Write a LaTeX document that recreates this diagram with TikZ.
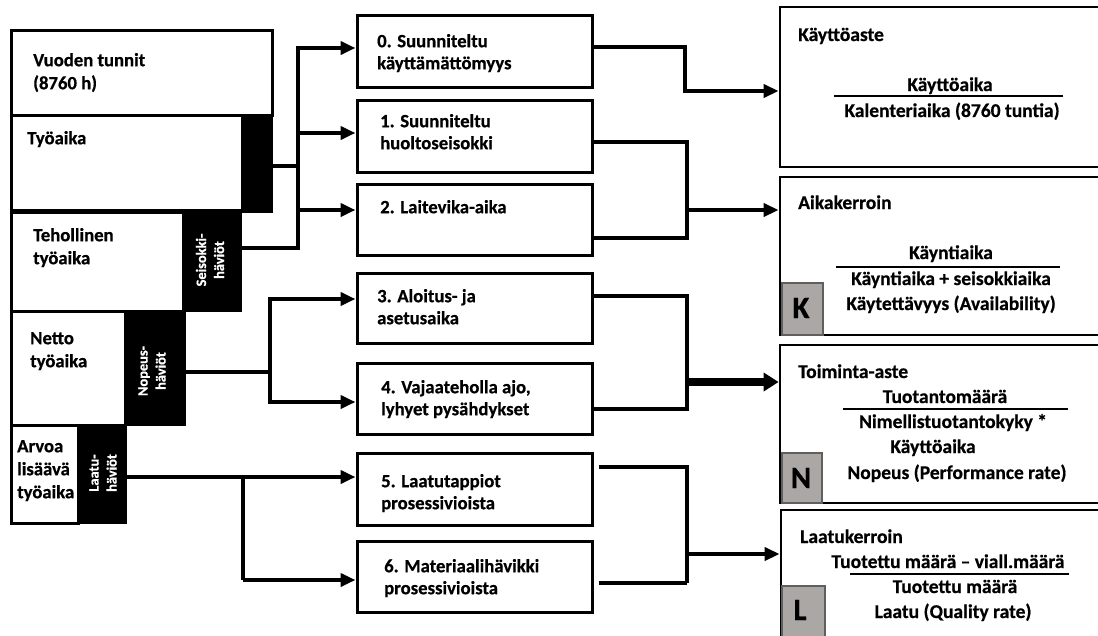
\documentclass[tikz,border=0pt]{standalone}
\usepackage{fontspec}
\setmainfont{Carlito}[BoldFont={Carlito Bold}, BoldFeatures={FakeBold=0.6}]
\usetikzlibrary{arrows.meta}
\definecolor{tagfill}{RGB}{170,167,164}
\definecolor{tagedge}{RGB}{95,95,95}
\tikzset{
  cell/.style={draw=black, line width=3pt, fill=white, inner sep=0pt},
  loss/.style={draw=black, fill=black, line width=0.5pt, inner sep=0pt},
  midbox/.style={draw=black, line width=3pt, fill=white, inner sep=0pt, minimum width=235pt},
  kpibox/.style={draw=black, line width=2.8pt, fill=white, inner sep=0pt, minimum width=335pt},
  tagbox/.style={draw=tagedge, line width=1.2pt, fill=tagfill, inner sep=0pt},
  tagtxt/.style={font=\fontsize{31}{33}\selectfont\bfseries, inner sep=0pt, anchor=base},
  ltxt/.style={font=\fontsize{18.7}{23}\selectfont\bfseries, inner sep=0pt, align=left, anchor=north west},
  mtxt/.style={font=\fontsize{18.7}{22}\selectfont\bfseries, inner sep=0pt, align=left, anchor=north west},
  ktitle/.style={font=\fontsize{19.5}{22}\selectfont\bfseries, inner sep=0pt, anchor=base west},
  ktxt/.style={font=\fontsize{19.5}{22}\selectfont\bfseries, inner sep=0pt, anchor=base},
  rot/.style={font=\fontsize{14.4}{18}\selectfont\bfseries, text=white, align=center, rotate=90, inner sep=0pt},
  conn/.style={line width=4.5pt, draw=black},
  arr/.style={conn, -{Triangle[length=15pt,width=13pt]}},
  bigarr/.style={line width=8.5pt, draw=black, -{Triangle[length=15pt,width=18pt]}},
  fracline/.style={line width=2pt},
}
\begin{document}
\begin{tikzpicture}[x=1pt,y=-1pt]
\path[use as bounding box] (0,0) rectangle (1098,635);
\clip (0,0) rectangle (1098,635);

% time breakdown stack
\node[cell, minimum width=261pt, minimum height=85pt] (v) at (141.5,72.5) {};
\node[cell, minimum width=231pt, minimum height=95pt] (t) at (126.5,162.5) {};
\node[cell, minimum width=172pt, minimum height=99pt] (e) at (97,261.5) {};
\node[cell, minimum width=114pt, minimum height=114pt] (n) at (68,368) {};
\node[cell, minimum width=67pt, minimum height=98pt] (a) at (44.5,474) {};
\node[loss, minimum width=30pt, minimum height=97pt] (tb) at (257,163.5) {};
\node[loss, minimum width=58pt, minimum height=99pt] (eb) at (212,261.5) {};
\node[loss, minimum width=60pt, minimum height=114pt] (nb) at (155,368) {};
\node[loss, minimum width=48pt, minimum height=98pt] (ab) at (102,474) {};

\node[ltxt] (vt) at (33,49.9) {\strut Vuoden tunnit\\(8760 h)};
\node[ltxt] (tt) at (27,127.9) {\strut Työaika};
\node[ltxt] (et) at (33,224.9) {\strut Tehollinen\\työaika};
\node[ltxt] (nt) at (30,327.9) {\strut Netto\\työaika};
\node[ltxt] (at) at (17,435.9) {\strut Arvoa\\lisäävä\\työaika};

\node[rot] (ebt) at (210,260) {Seisokki-\\häviöt};
\node[rot] (nbt) at (152,371) {Nopeus-\\häviöt};
\node[rot] (abt) at (103,473) {Laatu-\\häviöt};

% loss categories
\node[midbox, minimum height=72pt] (b0) at (474.5,51) {};
\node[midbox, minimum height=72pt] (b1) at (474.5,136) {};
\node[midbox, minimum height=71pt] (b2) at (474.5,219.5) {};
\node[midbox, minimum height=70pt] (b3) at (474.5,308) {};
\node[midbox, minimum height=71pt] (b4) at (474.5,398.5) {};
\node[midbox, minimum height=72pt] (b5) at (474.5,489) {};
\node[midbox, minimum height=71pt] (b6) at (474.5,576.5) {};

\node[mtxt] (b0t) at (377,31.6) {\strut 0. Suunniteltu\\käyttämättömyys};
\node[mtxt] (b1t) at (380,111.6) {\strut 1. Suunniteltu\\huoltoseisokki};
\node[mtxt] (b2t) at (380,197.6) {\strut 2. Laitevika-aika};
\node[mtxt] (b3t) at (377,286.6) {\strut 3. Aloitus- ja\\asetusaika};
\node[mtxt] (b4t) at (381,377.6) {\strut 4. Vajaateholla ajo,\\lyhyet pysähdykset};
\node[mtxt] (b5t) at (381,471.6) {\strut 5. Laatutappiot\\prosessivioista};
\node[mtxt] (b6t) at (384,556.6) {\strut 6. Materiaalihävikki\\prosessivioista};

% key figures
\node[kpibox, minimum height=160pt] (r1) at (947.5,87) {};
\node[kpibox, minimum height=158pt] (r2) at (947.5,256) {};
\node[kpibox, minimum height=158pt] (r3) at (947.5,424) {};
\node[kpibox, minimum height=150pt] (r4) at (948.5,585) {};

\node[tagbox, minimum width=41pt, minimum height=52pt] (gk) at (802.5,309) {};
\node[tagbox, minimum width=40pt, minimum height=50pt] (gn) at (802,478) {};
\node[tagbox, minimum width=43pt, minimum height=58pt] (gl) at (803.5,615) {};
\node[tagtxt] (gkt) at (801,318) {K};
\node[tagtxt] (gnt) at (801,488) {N};
\node[tagtxt] (glt) at (800,620) {L};

\node[ktitle] (r1t) at (798,41) {Käyttöaste};
\node[ktxt] (r1a) at (950,91) {Käyttöaika};
\node[ktxt] (r1b) at (952,117) {Kalenteriaika (8760 tuntia)};
\draw[fracline] (834,96) -- (1063,96);

\node[ktitle] (r2t) at (798,209) {Aikakerroin};
\node[ktxt] (r2a) at (951,259) {Käyntiaika};
\node[ktxt] (r2b) at (951,285) {Käyntiaika + seisokkiaika};
\node[ktxt] (r2c) at (951,310) {Käytettävyys (Availability)};
\draw[fracline] (836,267) -- (1060,267);

\node[ktitle] (r3t) at (798,378) {Toiminta-aste};
\node[ktxt] (r3a) at (945,403) {Tuotantomäärä};
\node[ktxt] (r3b) at (953,428) {Nimellistuotantokyky *};
\node[ktxt] (r3c) at (933,453) {Käyttöaika};
\node[ktxt] (r3d) at (957,479) {Nopeus (Performance rate)};
\draw[fracline] (843,409) -- (1068,409);

\node[ktitle] (r4t) at (800,543) {Laatukerroin};
\node[ktxt] (r4a) at (948,568) {Tuotettu määrä – viall.määrä};
\node[ktxt] (r4b) at (955,593) {Tuotettu määrä};
\node[ktxt] (r4c) at (953,618) {Laatu (Quality rate)};
\draw[fracline] (850,574) -- (1069,574);

% junction points
\coordinate (jA0) at (298,48);
\coordinate (jA1) at (298,133);
\coordinate (jA2) at (298,210);
\coordinate (jAm) at (298,166);
\coordinate (jAb) at (298,248);
\coordinate (jB0) at (270,299);
\coordinate (jB1) at (270,402);
\coordinate (jBm) at (270,372);
\coordinate (jC0) at (243,477);
\coordinate (jC1) at (243,580);
\coordinate (kA) at (685,47);
\coordinate (kB) at (685,91);
\coordinate (kC) at (687,142);
\coordinate (kD) at (687,238);
\coordinate (kE) at (687,210);
\coordinate (kF) at (687,296);
\coordinate (kG) at (687,409);
\coordinate (kH) at (687,382);
\coordinate (kI) at (687,467);
\coordinate (kJ) at (687,583);
\coordinate (kK) at (687,554);

% stack to loss categories
\draw[conn] (jAm -| tb.east) -- (jAm);
\draw[conn] (jAb -| eb.east) -- (jAb);
\draw[conn, line cap=rect] (jA0) -- (jAb);
\draw[arr] (jA0) -- (jA0 -| b0.west);
\draw[arr] (jA1) -- (jA1 -| b1.west);
\draw[arr] (jA2) -- (jA2 -| b2.west);

\draw[conn] (jBm -| nb.east) -- (jBm);
\draw[conn, line cap=rect] (jB0) -- (jB1);
\draw[arr] (jB0) -- (jB0 -| b3.west);
\draw[arr] (jB1) -- (jB1 -| b4.west);

\draw[arr] (jC0 -| ab.east) -- (jC0 -| b5.west);
\draw[conn] (jC0) -- (jC1);
\draw[arr] (jC1) -- (jC1 -| b6.west);

% loss categories to key figures
\draw[arr] (kA -| b0.east) -- (kA) -- (kB) -- (kB -| r1.west);
\draw[conn] (kC -| b1.east) -- (kC) -- (kD) -- (kD -| b2.east);
\draw[arr] (kE) -- (kE -| r2.west);
\draw[conn] (kF -| b3.east) -- (kF) -- (kG) -- (kG -| b4.east);
\draw[bigarr] (kH) -- (kH -| r3.west);
\draw[conn, shorten <=5pt] (kI -| b5.east) -- (kI) -- (kJ);
\draw[conn, shorten >=5pt] (kJ) -- (kJ -| b6.east);
\draw[arr] (kK) -- (kK -| r4.west);
\end{tikzpicture}
\end{document}
